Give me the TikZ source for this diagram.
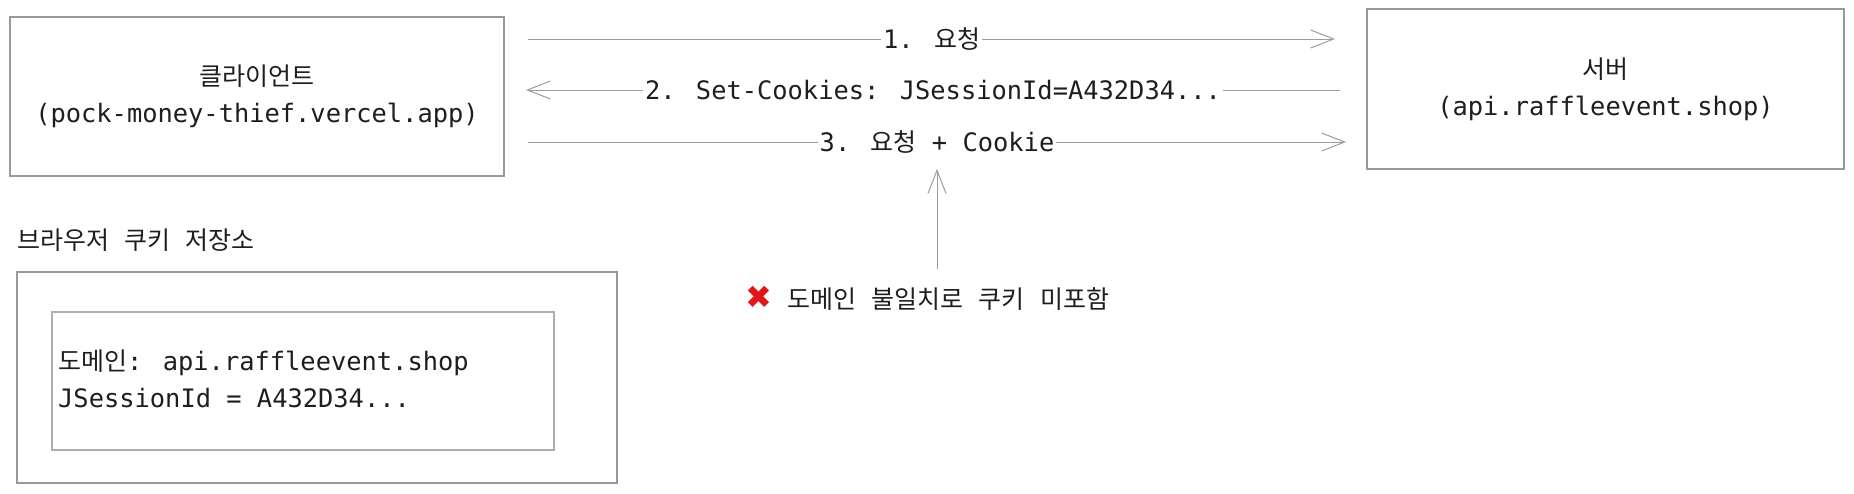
\documentclass[tikz,border=0pt]{standalone}
\usepackage{fontspec}
\setmainfont{DejaVu Sans Mono}
\newfontfamily\kr{Noto Sans CJK KR}
\newfontfamily\sym{DejaVu Sans}
\usetikzlibrary{arrows.meta}
\definecolor{ink}{HTML}{1E1E1E}
\definecolor{boxline}{HTML}{999999}
\definecolor{arrowline}{HTML}{9C9C9C}
\definecolor{xred}{HTML}{E0161C}
\newcommand\K[1]{{\kr\fontsize{25}{37}\selectfont #1}}
\begin{document}
\begin{tikzpicture}[x=1pt,y=-1pt,
  every node/.style={text=ink, font=\fontsize{25.4}{37}\selectfont},
  box/.style={draw=boxline, line width=1.2pt, inner sep=0pt},
  conn/.style={draw=arrowline, line width=1pt, -{Straight Barb[length=23pt,width=18pt,line width=1pt]}},
  lab/.style={fill=white, inner sep=2pt}]
\useasboundingbox (0,0) rectangle (1854,493);
% boxes
\node[box, minimum width=494, minimum height=159, align=center] (client) at (257,96.5)
  {\K{클라이언트}\\(pock-money-thief.vercel.app)};
\node[box, minimum width=477, minimum height=160, align=center] (server) at (1605.5,89)
  {\K{서버}\\(api.raffleevent.shop)};
% storage
\node[anchor=west, inner sep=0pt] (title) at (17,240) {\K{브라우저} \K{쿠키} \K{저장소}};
\node[box, minimum width=600, minimum height=211] (outer) at (317,377.5) {};
\node[box, draw=boxline!80, minimum width=502, minimum height=138] (inner) at (303,381) {};
\node[anchor=west, align=left, inner sep=0pt] (cookie) at (58,379)
  {\K{도메인}: api.raffleevent.shop\\JSessionId = A432D34...};
% arrows
\coordinate (a1s) at (528,39);  \coordinate (a1e) at (1335,39);
\coordinate (a2s) at (1340,90); \coordinate (a2e) at (526,90);
\coordinate (a3s) at (528,142); \coordinate (a3e) at (1346,142);
\draw[conn] (a1s) -- node[lab] (l1) {1. \K{요청}} (a1e);
\draw[conn] (a2s) -- node[lab] (l2) {2. Set-Cookies: JSessionId=A432D34...} (a2e);
\draw[conn] (a3s) -- node[lab] (l3) {3. \K{요청} + Cookie} (a3e);
% note
\node[anchor=west, inner sep=0pt] (note) at (745,298)
  {{\sym\fontsize{32}{37}\selectfont\color{xred}✖} \K{도메인} \K{불일치로} \K{쿠키} \K{미포함}};
\coordinate (v0) at (937,269); \coordinate (v1) at (937,169);
\draw[conn] (v0) -- (v1);
\end{tikzpicture}
\end{document}
